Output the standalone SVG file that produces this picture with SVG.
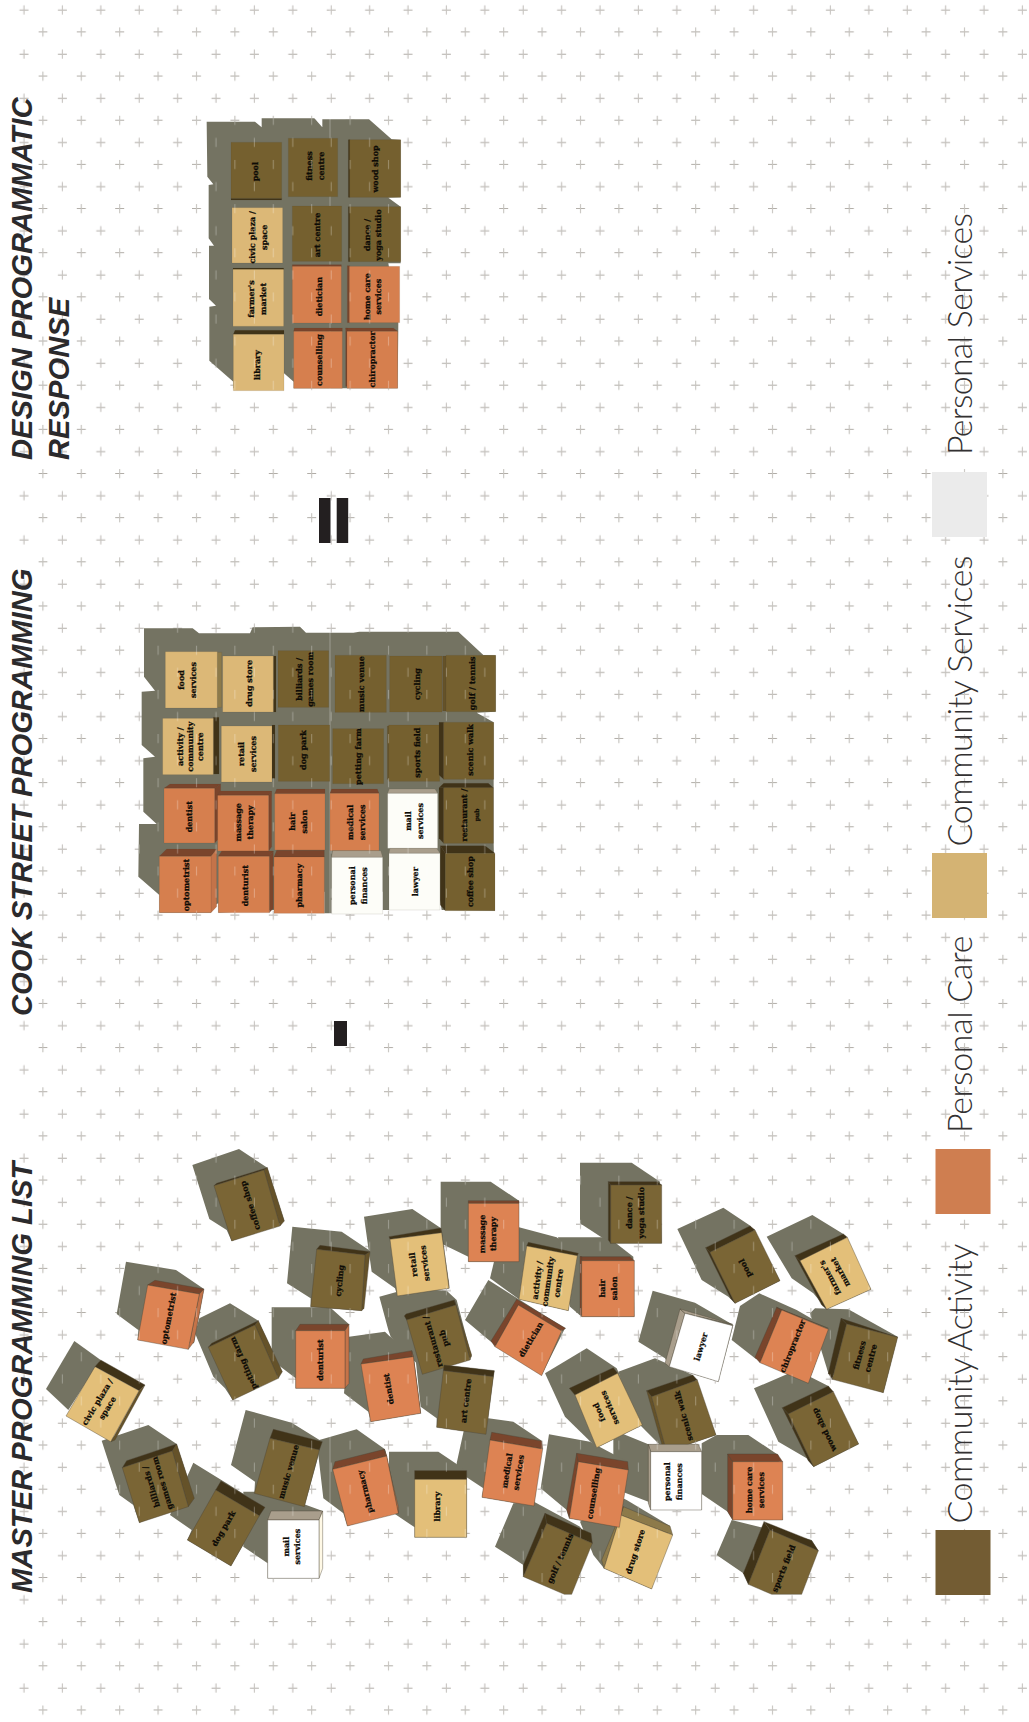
<svg xmlns="http://www.w3.org/2000/svg" width="1029" height="1722" viewBox="0 0 1029 1722">
<style>
.sh{fill:#747362}
.a{fill:#7a6535}.ad{fill:#403318}.am{fill:#655229}
.p{fill:#dd8353}.pd{fill:#7a452c}.pm{fill:#c47349}
.c{fill:#e3bf79}.cm{fill:#8d7a4a}
.s{fill:#fff}.sd{fill:#a99e8c}.sp{fill:#fff9e6}
.a,.ad,.am,.p,.pd,.pm,.c,.cm,.s,.sd,.sp{stroke:#4b4436;stroke-width:1.2;stroke-linejoin:round}
.grid .a{fill:#75602f}.grid .p{fill:#d67f4e}.grid .c{fill:#dcb877}.grid .s{fill:#fdfdf8}
.grid .a,.grid .ad,.grid .am,.grid .p,.grid .pd,.grid .pm,.grid .c,.grid .cm,.grid .s,.grid .sd,.grid .sp{stroke-width:.6;stroke-opacity:.6}
.l{font-family:"DejaVu Serif",serif;font-weight:700;font-size:24px;fill:#0d0b06;stroke:#0d0b06;stroke-width:.7;text-anchor:middle}
.t{font-family:"Liberation Sans",Arial,sans-serif;font-weight:700;font-style:italic;font-size:29.2px;fill:#2b2a2c}
.g{font-family:Lato,"Open Sans",sans-serif;font-weight:300;font-size:34px;fill:#333132}
.b{fill:#231f20}
</style>
<defs>
<pattern id="plusA" width="38.4" height="44.16" patternUnits="userSpaceOnUse">
<path d="M19.5 10H28.5M24 5.5V14.5" stroke="#b0aca6" fill="none"/>
</pattern>
<pattern id="plusB" width="38.4" height="44.16" patternUnits="userSpaceOnUse">
<path d="M0 32H9M4.5 27.5V36.5" stroke="#b0aca6" fill="none"/>
</pattern>
<pattern id="tickA" width="38.4" height="44.16" patternUnits="userSpaceOnUse">
<path d="M24 5.5V14.5" stroke="#fff" stroke-opacity=".3" fill="none"/>
</pattern>
<pattern id="tickB" width="38.4" height="44.16" patternUnits="userSpaceOnUse">
<path d="M4.5 27.5V36.5" stroke="#fff" stroke-opacity=".3" fill="none"/>
</pattern>
</defs>
<rect width="1029" height="1722" fill="#fff"/>
<g id="backdrop">
<rect width="1029" height="1722" fill="url(#plusA)"/>
<rect x="38.4" width="990.6" height="1722" fill="url(#plusB)"/>
</g>
<g id="shadows">
<polygon class="sh" transform="translate(130 100) scale(.33333)" points="230,65 375,65 395,82 395,55 553,55 577,82 577,58 717,58 785,118 812,120 812,292 775,293 812,320 812,490 775,490 805,670 803,865 491,865 491,845 462,820 462,865 310,865 310,845 238,782 238,620 258,617 237,597 237,437 252,437 236,415 236,255 250,253 232,230"/>
<polygon class="sh" transform="translate(130 620) scale(.33333)" points="42,25 188,25 207,40 360,40 368,22 510,20 528,38 670,38 688,35 985,35 1060,105 1097,106 1097,275 1040,278 1091,307 1091,670 1095,872 935,870 930,840 777,810 777,870 758,870 758,815 605,840 605,880 583,880 583,815 432,870 265,878 265,850 243,860 243,878 88,878 88,825 25,770 27,612 80,612 40,575 40,415 75,410 35,375 35,215 75,212 42,170"/>
<g transform="translate(40 1140) scale(.33333)">
<polygon class="sh" points="457,75 597,27 682,83 733,243 575,303 560,270 508,237"/>
<polygon class="sh" points="258,365 408,390 492,447 462,610 293,600 295,570 230,522"/>
<polygon class="sh" points="465,580 478,535 570,490 655,542 727,695 578,780 555,745 520,710"/>
<polygon class="sh" points="18,747 103,603 182,660 85,810"/>
<polygon class="sh" points="695,502 870,502 927,553 927,745 767,745 767,715 695,660"/>
</g>
<g transform="translate(300 1140) scale(.33333)">
<polygon class="sh" points="-23,260 125,275 210,332 185,512 32,500 32,475 -39,430"/>
<polygon class="sh" points="192,230 337,207 422,264 447,445 292,468 285,445 215,395"/>
<polygon class="sh" points="422,125 572,125 657,182 657,365 505,365 505,350 422,310"/>
<polygon class="sh" points="657,262 770,292 835,340 805,512 657,478 570,415 582,365"/>
<polygon class="sh" points="495,540 565,420 660,480 795,565 725,705 573,605 560,595"/>
<polygon class="sh" points="147,590 255,575 268,588 340,640 362,820 212,845 205,815 132,760"/>
<polygon class="sh" points="238,470 330,445 440,452 470,480 515,650 367,703 360,680 272,590 265,570"/>
<polygon class="sh" points="345,640 432,675 583,692 558,883 410,862 410,835 362,800"/>
</g>
<g transform="translate(580 1140) scale(.33333)">
<polygon class="sh" points="-66,292 85,292 160,350 163,530 5,530 -30,500"/>
<polygon class="sh" points="0,68 155,68 240,125 245,310 92,310 0,250"/>
<polygon class="sh" points="292,267 430,203 512,258 600,422 465,490 445,470 365,420"/>
<polygon class="sh" points="560,290 697,225 790,282 873,448 740,508 700,460 635,415"/>
<polygon class="sh" points="218,452 345,488 460,555 415,725 268,680 255,655 175,605"/>
<polygon class="sh" points="455,600 480,498 538,460 650,510 745,565 685,730 525,655"/>
<polygon class="sh" points="690,520 705,505 805,508 953,590 910,758 745,700"/>
<polygon class="sh" points="-105,700 20,625 110,685 187,855 50,923 -45,830"/>
<polygon class="sh" points="115,695 225,655 338,705 408,885 260,935 165,840"/>
</g>
<g transform="translate(620 1400) scale(.33333)">
<polygon class="sh" points="402,-35 530,-90 625,-42 716,132 581,200 560,175 475,125"/>
<polygon class="sh" points="-20,90 85,133 245,155 245,330 92,330 85,305 -20,265"/>
<polygon class="sh" points="245,130 290,105 385,105 475,165 488,360 338,360 323,335 245,282"/>
<polygon class="sh" points="335,360 575,420 595,452 385,553 370,520 290,465"/>
<polygon class="sh" points="-120,365 0,290 20,300 150,378 95,567 -48,505 -80,465"/>
</g>
<g transform="translate(330 1400) scale(.33333)">
<polygon class="sh" points="632,265 657,103 780,125 893,185 868,382 718,355 710,330"/>
<polygon class="sh" points="380,190 405,75 475,55 550,65 635,122 612,318 456,292 460,265 385,215"/>
<polygon class="sh" points="495,440 550,310 612,305 750,380 785,430 580,525 580,495"/>
<polygon class="sh" points="177,155 325,155 410,212 410,412 254,412 254,382 177,330"/>
<polygon class="sh" points="-40,122 80,88 165,148 205,330 52,378 40,340 -20,295"/>
</g>
<g transform="translate(40 1400) scale(.33333)">
<polygon class="sh" points="617,30 755,68 847,125 793,320 643,280 645,245 573,195"/>
<polygon class="sh" points="185,122 325,75 410,132 463,295 298,368 280,315 238,285"/>
<polygon class="sh" points="390,345 460,188 560,250 675,322 573,498 442,420 455,390"/>
<polygon class="sh" points="610,275 690,275 848,333 837,535 683,535 683,490 610,440"/>
</g>
</g>
<line id="seam" x1="330" y1="0" x2="330" y2="1722" stroke="#fff" stroke-opacity=".3"/>

<g id="design-grid" class="grid" transform="translate(130 100) scale(.33333)">
<g id="d-pool"><rect class="ad" x="303" y="295" width="152" height="5"/><rect class="a" x="303" y="127" width="152" height="168"/><text class="l" transform="translate(375 215) rotate(-90)" y="9">pool</text></g>
<g id="d-fitness"><rect class="a" x="475" y="115" width="148" height="175"/><text class="l" transform="translate(555 198) rotate(-90)"><tspan x="0" y="-9">fitness</tspan><tspan x="0" y="26">centre</tspan></text></g>
<g id="d-wood"><rect class="ad" x="655" y="119" width="5" height="173"/><rect class="a" x="659" y="119" width="153" height="173"/><text class="l" transform="translate(735 207) rotate(-90)" y="9">wood shop</text></g>
<g id="d-civic"><rect class="c" x="306" y="323" width="152" height="166"/><text class="l" transform="translate(385 412) rotate(-90)"><tspan x="0" y="-9">civic plaza /</tspan><tspan x="0" y="26">space</tspan></text></g>
<g id="d-art"><rect class="a" x="487" y="318" width="148" height="166"/><text class="l" transform="translate(562 405) rotate(-90)" y="9">art centre</text></g>
<g id="d-dance"><rect class="ad" x="655" y="320" width="5" height="165"/><rect class="a" x="659" y="320" width="153" height="165"/><text class="l" transform="translate(728 405) rotate(-90)"><tspan x="0" y="-9">dance /</tspan><tspan x="0" y="26">yoga studio</tspan></text></g>
<g id="d-farmer"><rect class="ad" x="309" y="504" width="152" height="5"/><rect class="c" x="309" y="508" width="152" height="171"/><text class="l" transform="translate(382 597) rotate(-90)"><tspan x="0" y="-9">farmer's</tspan><tspan x="0" y="26">market</tspan></text></g>
<g id="d-dietician"><rect class="pd" x="487" y="494" width="147" height="6"/><rect class="p" x="487" y="499" width="147" height="170"/><text class="l" transform="translate(567 590) rotate(-90)" y="9">dietician</text></g>
<g id="d-home"><rect class="pd" x="652" y="497" width="7" height="171"/><rect class="p" x="658" y="499" width="151" height="169"/><text class="l" transform="translate(728 590) rotate(-90)"><tspan x="0" y="-9">home care</tspan><tspan x="0" y="26">services</tspan></text></g>
<g id="d-library"><polygon class="ad" points="310,703 315,691 462,691 462,703"/><rect class="c" x="310" y="703" width="152" height="169"/><text class="l" transform="translate(380 795) rotate(-90)" y="9">library</text></g>
<g id="d-counselling"><polygon class="pd" points="491,694 493,684 637,684 637,694"/><rect class="p" x="491" y="694" width="146" height="171"/><text class="l" transform="translate(568 780) rotate(-90)" y="9">counselling</text></g>
<g id="d-chiro"><polygon class="pd" points="651,694 647,684 790,684 803,694"/><rect class="pd" x="647" y="684" width="5" height="175"/><rect class="p" x="651" y="694" width="152" height="171"/><text class="l" transform="translate(725 778) rotate(-90)" y="9">chiropractor</text></g>
</g>

<g id="cook-grid" class="grid" transform="translate(130 620) scale(.33333)">
<g id="k-food"><rect class="cm" x="262" y="97" width="13" height="165"/><rect class="c" x="106" y="95" width="156" height="169"/><text class="l" transform="translate(172 180) rotate(-90)"><tspan x="0" y="-9">food</tspan><tspan x="0" y="26">services</tspan></text></g>
<g id="k-drug"><rect class="ad" x="430" y="108" width="8" height="168"/><rect class="c" x="278" y="108" width="152" height="168"/><text class="l" transform="translate(356 190) rotate(-90)" y="9">drug store</text></g>
<g id="k-billiards"><rect class="a" x="444" y="92" width="152" height="170"/><text class="l" transform="translate(525 178) rotate(-90)"><tspan x="0" y="-9">billiards /</tspan><tspan x="0" y="24">games room</tspan></text></g>
<g id="k-music"><rect class="a" x="615" y="106" width="154" height="171"/><text class="l" transform="translate(692 192) rotate(-90)" y="9">music venue</text></g>
<g id="k-cycling"><rect class="a" x="779" y="108" width="157" height="168"/><text class="l" transform="translate(860 192) rotate(-90)" y="9">cycling</text></g>
<g id="k-golf"><rect class="am" x="938" y="108" width="10" height="165"/><rect class="a" x="948" y="106" width="149" height="169"/><text class="l" transform="translate(1025 190) rotate(-90)" y="9">golf / tennis</text></g>
<g id="k-activity"><rect class="ad" x="250" y="292" width="17" height="170"/><rect class="c" x="98" y="295" width="152" height="169"/><text class="l" transform="translate(180 380) rotate(-90)"><tspan x="0" y="-20">activity /</tspan><tspan x="0" y="9">community</tspan><tspan x="0" y="38">centre</tspan></text></g>
<g id="k-retail"><rect class="ad" x="426" y="315" width="9" height="160"/><rect class="c" x="274" y="318" width="152" height="168"/><text class="l" transform="translate(352 402) rotate(-90)"><tspan x="0" y="-9">retail</tspan><tspan x="0" y="26">services</tspan></text></g>
<g id="k-dog"><rect class="a" x="445" y="315" width="154" height="169"/><text class="l" transform="translate(520 390) rotate(-90)" y="9">dog park</text></g>
<g id="k-petting"><rect class="a" x="608" y="326" width="153" height="165"/><text class="l" transform="translate(685 410) rotate(-90)" y="9">petting farm</text></g>
<g id="k-sports"><rect class="am" x="772" y="318" width="5" height="160"/><rect class="a" x="776" y="315" width="153" height="169"/><text class="l" transform="translate(860 398) rotate(-90)" y="9">sports field</text></g>
<g id="k-scenic"><polygon class="ad" points="927,307 941,307 941,478 927,465"/><rect class="a" x="941" y="307" width="150" height="171"/><text class="l" transform="translate(1020 390) rotate(-90)" y="9">scenic walk</text></g>
<g id="k-dentist"><polygon class="pd" points="102,505 120,492 272,492 254,505"/><polygon class="pd" points="254,505 272,492 272,650 254,669"/><rect class="p" x="102" y="505" width="152" height="164"/><text class="l" transform="translate(178 590) rotate(-90)" y="9">dentist</text></g>
<g id="k-massage"><polygon class="pd" points="263,526 270,513 425,513 416,526"/><polygon class="pd" points="416,526 425,513 425,680 416,693"/><rect class="p" x="263" y="526" width="153" height="167"/><text class="l" transform="translate(342 607) rotate(-90)"><tspan x="0" y="-9">massage</tspan><tspan x="0" y="26">therapy</tspan></text></g>
<g id="k-hair"><polygon class="pd" points="434,521 440,507 585,507 585,521"/><rect class="p" x="434" y="521" width="151" height="169"/><text class="l" transform="translate(505 605) rotate(-90)"><tspan x="0" y="-9">hair</tspan><tspan x="0" y="26">salon</tspan></text></g>
<g id="k-medical"><polygon class="pd" points="600,520 605,507 742,507 747,520"/><rect class="p" x="600" y="520" width="147" height="172"/><text class="l" transform="translate(678 607) rotate(-90)"><tspan x="0" y="-9">medical</tspan><tspan x="0" y="26">services</tspan></text></g>
<g id="k-mail"><polygon class="sd" points="773,520 778,507 915,507 923,520"/><rect class="s" x="773" y="520" width="150" height="165"/><text class="l" transform="translate(852 603) rotate(-90)"><tspan x="0" y="-9">mail</tspan><tspan x="0" y="26">services</tspan></text></g>
<g id="k-restaurant"><polygon class="ad" points="927,503 941,490 1075,490 1090,503"/><polygon class="ad" points="927,503 941,503 941,670 927,655"/><rect class="a" x="941" y="503" width="149" height="167"/><text class="l" transform="translate(1022 585) rotate(-90)"><tspan x="0" y="-10">restaurant /</tspan><tspan x="0" y="26" font-size="18">pub</tspan></text></g>
<g id="k-optometrist"><polygon class="pd" points="88,709 110,687 260,687 243,709"/><polygon class="pm" points="243,709 260,687 260,860 243,878"/><rect class="p" x="88" y="709" width="155" height="169"/><text class="l" transform="translate(168 795) rotate(-90)" y="9">optometrist</text></g>
<g id="k-denturist"><polygon class="pd" points="265,709 275,693 430,693 418,709"/><polygon class="pd" points="418,709 430,693 430,865 418,878"/><rect class="p" x="265" y="709" width="153" height="169"/><text class="l" transform="translate(345 797) rotate(-90)" y="9">denturist</text></g>
<g id="k-pharmacy"><polygon class="pd" points="432,711 440,691 583,691 583,711"/><rect class="p" x="432" y="711" width="151" height="169"/><text class="l" transform="translate(508 797) rotate(-90)" y="9">pharmacy</text></g>
<g id="k-personal"><polygon class="sd" points="605,712 608,692 752,692 758,712"/><rect class="s" x="605" y="712" width="153" height="170"/><text class="l" transform="translate(685 797) rotate(-90)"><tspan x="0" y="-9">personal</tspan><tspan x="0" y="26">finances</tspan></text></g>
<g id="k-lawyer"><polygon class="sd" points="777,700 780,685 920,685 930,700"/><rect class="s" x="777" y="700" width="153" height="170"/><text class="l" transform="translate(855 785) rotate(-90)" y="9">lawyer</text></g>
<g id="k-coffee"><polygon class="ad" points="931,677 1065,677 1095,700 946,700"/><polygon class="ad" points="931,677 946,700 946,872 931,855"/><rect class="a" x="946" y="700" width="149" height="172"/><text class="l" transform="translate(1020 785) rotate(-90)" y="9">coffee shop</text></g>
</g>

<g id="list-a" transform="translate(40 1140) scale(.33333)">
<g id="m-coffee"><polygon class="ad" points="522,137 530,130 682,83 672,90"/><polygon class="am" points="672,90 682,83 733,243 720,258"/><polygon class="a" points="522,137 672,90 720,258 575,303"/><text class="l" transform="translate(630 197) rotate(-107)" y="9">coffee shop</text></g>
<g id="m-optometrist"><polygon class="pd" points="323,435 345,421 492,447 478,462"/><polygon class="pm" points="478,462 492,447 462,605 445,628"/><polygon class="p" points="323,435 478,462 445,628 293,600"/><text class="l" transform="translate(385 535) rotate(-79)" y="9">optometrist</text></g>
<g id="m-petting"><polygon class="ad" points="505,622 515,610 655,542 645,555"/><polygon class="am" points="645,555 655,542 727,695 715,715"/><polygon class="a" points="505,622 645,555 715,715 578,780"/><text class="l" transform="translate(610 670) rotate(-114)" y="9">petting farm</text></g>
<g id="m-civic"><polygon class="ad" points="165,680 182,660 315,735 297,752"/><polygon class="am" points="297,752 315,735 225,900 213,905"/><polygon class="c" points="165,680 297,752 212,905 78,828"/><text class="l" transform="translate(187 795) rotate(-59)"><tspan x="0" y="-9">civic plaza /</tspan><tspan x="0" y="26">space</tspan></text></g>
<g id="m-denturist"><polygon class="pd" points="767,572 780,553 927,553 915,572"/><polygon class="pm" points="915,572 927,553 927,730 915,745"/><rect class="p" x="767" y="572" width="148" height="173"/><text class="l" transform="translate(840 660) rotate(-90)" y="9">denturist</text></g>
</g>

<g id="list-b" transform="translate(300 1140) scale(.33333)">
<g id="m-cycling"><polygon class="ad" points="50,328 60,316 210,335 195,345"/><polygon class="am" points="195,345 210,335 192,505 185,512"/><polygon class="a" points="50,328 195,345 185,512 32,500"/><text class="l" transform="translate(118 422) rotate(-84)" y="9">cycling</text></g>
<g id="m-retail"><polygon class="ad" points="267,290 422,264 425,278 270,298"/><polygon class="am" points="422,264 447,435 447,445 425,278"/><polygon class="c" points="270,298 425,278 447,445 292,468"/><text class="l" transform="translate(357 372) rotate(-97)"><tspan x="0" y="-9">retail</tspan><tspan x="0" y="26">services</tspan></text></g>
<g id="m-massage"><polygon class="pd" points="505,182 657,182 657,190 505,190"/><rect class="p" x="505" y="190" width="152" height="175"/><text class="l" transform="translate(563 282) rotate(-90)"><tspan x="0" y="-9">massage</tspan><tspan x="0" y="26">therapy</tspan></text></g>
<g id="m-activity"><polygon class="ad" points="685,307 835,340 832,347 680,318"/><polygon class="c" points="680,318 832,347 805,512 657,478"/><text class="l" transform="translate(743 425) rotate(-82)"><tspan x="0" y="-23">activity /</tspan><tspan x="0" y="9">community</tspan><tspan x="0" y="41">centre</tspan></text></g>
<g id="m-dietician"><polygon class="pd" points="573,603 650,478 797,565 785,573 655,495 585,620"/><polygon class="p" points="585,620 655,495 785,573 725,707"/><text class="l" transform="translate(692 598) rotate(-59)" y="9">dietician</text></g>
<g id="m-dentist"><polygon class="pd" points="183,672 190,657 335,632 340,650"/><polygon class="pm" points="335,632 340,650 362,820 358,800"/><polygon class="p" points="183,672 340,650 362,820 212,845"/><text class="l" transform="translate(265 747) rotate(-99)" y="9">dentist</text></g>
<g id="m-restaurant"><polygon class="ad" points="313,528 318,522 463,480 468,495 320,540"/><polygon class="am" points="463,480 515,645 510,660 468,495"/><polygon class="a" points="320,540 468,495 510,660 367,703"/><text class="l" transform="translate(415 600) rotate(-106)"><tspan x="0" y="-9">restaurant /</tspan><tspan x="0" y="26">pub</tspan></text></g>
<g id="m-art"><polygon class="ad" points="432,675 583,692 580,710 430,692"/><polygon class="a" points="430,692 580,710 558,883 410,862"/><text class="l" transform="translate(497 782) rotate(-83)" y="9">art centre</text></g>
</g>

<g id="list-c" transform="translate(580 1140) scale(.33333)">
<g id="m-hair"><polygon class="pd" points="0,350 150,350 163,362 5,362"/><rect class="pd" x="0" y="350" width="5" height="175"/><rect class="p" x="5" y="362" width="158" height="168"/><text class="l" transform="translate(85 445) rotate(-90)"><tspan x="0" y="-9">hair</tspan><tspan x="0" y="26">salon</tspan></text></g>
<g id="m-dance"><polygon class="ad" points="85,125 232,125 245,135 92,135"/><polygon class="ad" points="85,125 92,135 92,310 85,300"/><rect class="a" x="92" y="135" width="153" height="175"/><text class="l" transform="translate(165 218) rotate(-90)"><tspan x="0" y="-9">dance /</tspan><tspan x="0" y="26">yoga studio</tspan></text></g>
<g id="m-pool"><polygon class="ad" points="377,323 510,258 525,270 390,337"/><polygon class="ad" points="377,323 390,337 465,490 452,475"/><polygon class="a" points="390,337 525,270 600,422 465,490"/><text class="l" transform="translate(495 385) rotate(-116)" y="9">pool</text></g>
<g id="m-farmer"><polygon class="ad" points="645,347 790,282 802,292 660,362"/><polygon class="ad" points="645,347 660,362 740,508 725,495"/><polygon class="c" points="660,362 802,292 873,448 740,508"/><text class="l" transform="translate(765 405) rotate(-118)"><tspan x="0" y="-9">farmer's</tspan><tspan x="0" y="26">market</tspan></text></g>
<g id="m-lawyer"><polygon class="sd" points="255,670 300,507 315,520 268,680"/><polygon class="sd" points="300,507 458,553 315,520"/><polygon class="s" points="315,520 458,557 415,725 268,680"/><text class="l" transform="translate(362 620) rotate(-73)" y="9">lawyer</text></g>
<g id="m-chiro"><polygon class="pd" points="525,652 590,502 605,510 540,668"/><polygon class="pd" points="590,502 745,565 605,510"/><polygon class="p" points="605,510 745,568 685,730 540,668"/><text class="l" transform="translate(637 618) rotate(-68)" y="9">chiropractor</text></g>
<g id="m-fitness"><polygon class="ad" points="745,700 783,535 800,552 757,718"/><polygon class="ad" points="783,535 953,592 800,552"/><polygon class="a" points="800,552 953,592 910,758 757,718"/><text class="l" transform="translate(855 650) rotate(-75)"><tspan x="0" y="-9">fitness</tspan><tspan x="0" y="26">centre</tspan></text></g>
<g id="m-food"><polygon class="ad" points="-32,745 100,683 113,700 -15,765"/><polygon class="c" points="-15,765 113,700 187,855 50,923"/><text class="l" transform="translate(73 810) rotate(-113)"><tspan x="0" y="-9">food</tspan><tspan x="0" y="26">services</tspan></text></g>
<g id="m-scenic"><polygon class="ad" points="200,752 338,705 352,720 215,770"/><polygon class="am" points="200,752 215,770 260,935 246,915"/><polygon class="a" points="215,770 352,720 408,885 260,935"/><text class="l" transform="translate(310 828) rotate(-105)" y="9">scenic walk</text></g>
</g>

<g id="list-d" transform="translate(620 1400) scale(.33333)">
<g id="m-wood"><polygon class="ad" points="487,23 625,-42 640,-25 505,42"/><polygon class="ad" points="487,23 505,42 581,200 565,182"/><polygon class="a" points="505,42 640,-25 716,132 581,200"/><text class="l" transform="translate(612 90) rotate(-115)" y="9">wood shop</text></g>
<g id="m-personal"><polygon class="sd" points="85,133 235,133 245,155 92,155"/><polygon class="sd" points="85,133 92,155 92,330 85,310"/><rect class="s" x="92" y="155" width="153" height="175"/><text class="l" transform="translate(160 245) rotate(-90)"><tspan x="0" y="-9">personal</tspan><tspan x="0" y="26">finances</tspan></text></g>
<g id="m-home"><polygon class="pd" points="323,162 338,185 338,360 323,335"/><polygon class="pd" points="323,162 472,162 488,185 338,185"/><rect class="p" x="338" y="185" width="150" height="175"/><text class="l" transform="translate(405 270) rotate(-90)"><tspan x="0" y="-9">home care</tspan><tspan x="0" y="26">services</tspan></text></g>
<g id="m-sports"><polygon class="ad" points="370,520 432,365 450,390 385,553"/><polygon class="ad" points="432,365 575,422 595,452 450,390"/><polygon class="a" points="450,390 595,452 545,583 455,583 385,553"/><text class="l" transform="translate(490 505) rotate(-68)" y="9">sports field</text></g>
<g id="m-drug"><polygon class="cm" points="10,320 150,378 158,405 2,345"/><polygon class="cm" points="10,320 2,345 -48,505 -55,480"/><polygon class="c" points="2,345 158,405 95,567 -48,505"/><text class="l" transform="translate(45 455) rotate(-72)" y="9">drug store</text></g>
</g>

<g id="list-e" transform="translate(330 1400) scale(.33333)">
<g id="m-counselling"><polygon class="pd" points="710,330 740,160 745,185 718,355"/><polygon class="pd" points="740,160 893,185 895,210 745,185"/><polygon class="p" points="745,185 895,210 868,382 718,355"/><text class="l" transform="translate(790 280) rotate(-81)" y="9">counselling</text></g>
<g id="m-medical"><polygon class="pd" points="485,97 635,123 638,147 480,120"/><polygon class="p" points="480,120 638,147 612,318 456,292"/><text class="l" transform="translate(548 215) rotate(-81)"><tspan x="0" y="-9">medical</tspan><tspan x="0" y="26">services</tspan></text></g>
<g id="m-golf"><polygon class="ad" points="580,495 645,340 650,370 580,530"/><polygon class="ad" points="645,340 783,400 787,430 650,370"/><polygon class="a" points="650,370 787,430 725,583 703,583 580,530"/><text class="l" transform="translate(690 475) rotate(-66)" y="9">golf / tennis</text></g>
<g id="m-library"><rect class="ad" x="254" y="212" width="156" height="26"/><rect class="c" x="254" y="238" width="156" height="174"/><text class="l" transform="translate(320 320) rotate(-90)" y="9">library</text></g>
<g id="m-pharmacy"><polygon class="pd" points="8,208 15,185 163,148 170,168"/><polygon class="pm" points="163,148 170,168 205,340 205,320"/><polygon class="p" points="8,208 170,168 205,340 52,378"/><text class="l" transform="translate(105 275) rotate(-104)" y="9">pharmacy</text></g>
</g>

<g id="list-f" transform="translate(40 1400) scale(.33333)">
<g id="m-music"><polygon class="ad" points="690,115 700,88 847,125 838,150"/><polygon class="a" points="690,115 838,150 793,320 643,280"/><text class="l" transform="translate(745 215) rotate(-74)" y="9">music venue</text></g>
<g id="m-billiards"><polygon class="ad" points="247,203 260,182 410,132 397,153"/><polygon class="am" points="397,153 410,132 463,295 445,320"/><polygon class="a" points="247,203 397,153 445,320 298,368"/><text class="l" transform="translate(350 255) rotate(-107)"><tspan x="0" y="-9">billiards /</tspan><tspan x="0" y="26">games room</tspan></text></g>
<g id="m-dog"><polygon class="ad" points="527,270 543,243 675,322 658,347"/><polygon class="a" points="527,270 658,347 573,498 442,420"/><text class="l" transform="translate(550 385) rotate(-60)" y="9">dog park</text></g>
<g id="m-mail"><polygon class="sd" points="683,360 693,333 848,333 837,360"/><polygon class="sp" points="837,360 848,333 848,505 837,535"/><rect class="s" x="683" y="360" width="154" height="175"/><text class="l" transform="translate(755 440) rotate(-90)"><tspan x="0" y="-9">mail</tspan><tspan x="0" y="26">services</tspan></text></g>
</g>

<g id="ticks">
<rect width="1029" height="1722" fill="url(#tickA)"/>
<rect x="38.4" width="990.6" height="1722" fill="url(#tickB)"/>
</g>
<g id="operators">
<rect class="b" x="319" y="498" width="11.5" height="45"/>
<rect class="b" x="336.7" y="498" width="11.5" height="45"/>
<rect class="b" x="334" y="1021" width="13" height="25"/>
</g>
<g id="titles">
<text class="t" transform="translate(32 1593) rotate(-90)">MASTER PROGRAMMING LIST</text>
<text class="t" transform="translate(32 1016) rotate(-90)">COOK STREET PROGRAMMING</text>
<text class="t" transform="translate(32 460) rotate(-90)">DESIGN PROGRAMMATIC</text>
<text class="t" transform="translate(69 460) rotate(-90)">RESPONSE</text>
</g>
<g id="legend">
<rect x="935.5" y="1530" width="55" height="65" fill="#735c33"/>
<rect x="935.5" y="1149" width="55" height="65" fill="#cf7e50"/>
<rect x="932" y="853" width="55" height="65" fill="#d4b373"/>
<rect x="932" y="472" width="55" height="65" fill="#ebebeb"/>
<text class="g" transform="translate(972 1523.6) rotate(-90)" textLength="280">Community Activity</text>
<text class="g" transform="translate(972 1133) rotate(-90)" textLength="197.5">Personal Care</text>
<text class="g" transform="translate(972 846.5) rotate(-90)" textLength="291">Community Services</text>
<text class="g" transform="translate(972 455) rotate(-90)" textLength="242">Personal Services</text>
</g>
</svg>
